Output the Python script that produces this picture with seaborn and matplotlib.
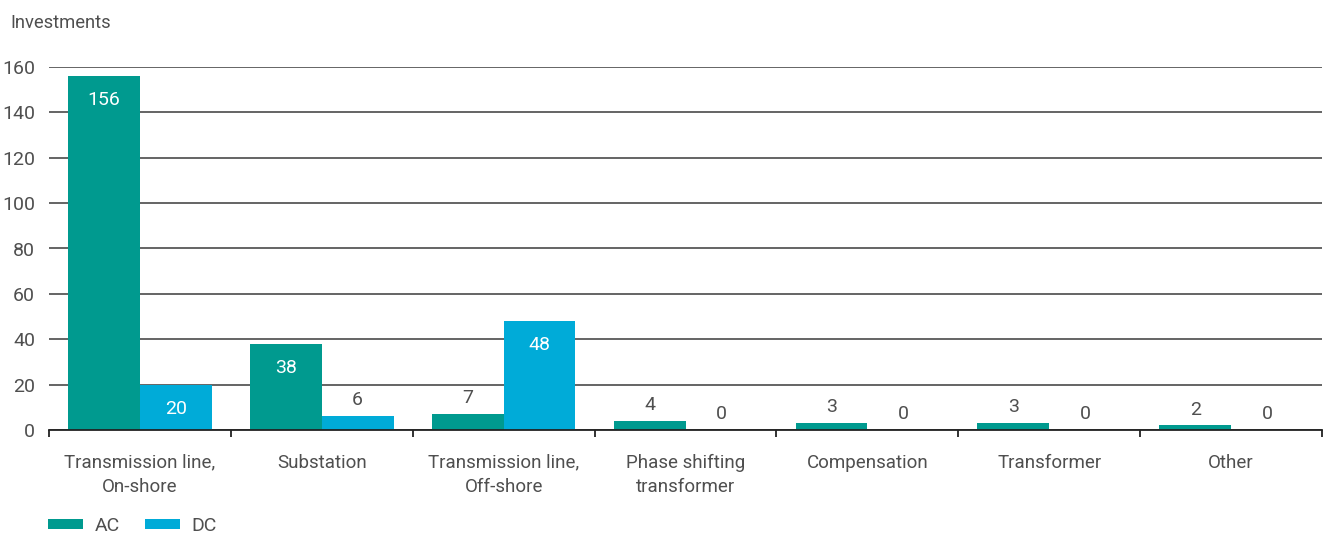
import matplotlib
matplotlib.use("Agg")
import matplotlib.pyplot as plt
import seaborn as sns
import pandas as pd
from matplotlib.patches import Patch

categories = [
    "Transmission line,\nOn-shore",
    "Substation",
    "Transmission line,\nOff-shore",
    "Phase shifting\ntransformer",
    "Compensation",
    "Transformer",
    "Other",
]
ac_values = [156, 38, 7, 4, 3, 3, 2]
dc_values = [20, 6, 48, 0, 0, 0, 0]
series = ["AC", "DC"]
y_ticks = [0, 20, 40, 60, 80, 100, 120, 140, 160]

colors = {"AC": "#009a8f", "DC": "#00abd8"}
text_gray = "#4f4f4f"

df = pd.DataFrame({
    "category": categories * 2,
    "value": ac_values + dc_values,
    "type": ["AC"] * len(categories) + ["DC"] * len(categories),
})

sns.set_theme(style="white")
plt.rcParams["font.family"] = ["Roboto", "DejaVu Sans"]

fig = plt.figure(figsize=(13.29, 5.38), dpi=100)
ax = fig.add_axes([49 / 1329, 1 - 430 / 538, (1322 - 49) / 1329, (430 - 67) / 538])

sns.barplot(
    data=df, x="category", y="value", hue="type", order=categories,
    hue_order=series, palette=colors, width=0.79, saturation=1,
    linewidth=0, edgecolor="none", legend=False, ax=ax, zorder=3,
)

ax.set_xlim(-0.5, len(categories) - 0.5)
ax.set_ylim(0, 160)
ax.set_yticks(y_ticks)
ax.set_yticklabels([str(v) for v in y_ticks])
ax.yaxis.grid(True, color="#3a3a3a", linewidth=1.1, zorder=0)
ax.set_axisbelow(True)
ax.set_xlabel("")
ax.set_ylabel("")

for side in ["top", "right", "left"]:
    ax.spines[side].set_visible(False)
ax.spines["bottom"].set_color("#222222")
ax.spines["bottom"].set_linewidth(1.3)
ax.spines["bottom"].set_zorder(5)

ax.tick_params(axis="y", length=0, pad=10, labelsize=14, labelcolor=text_gray)
ax.tick_params(axis="x", which="major", length=0, pad=17, labelsize=13.5,
               labelcolor=text_gray)
ax.set_xticks([i - 0.5 for i in range(len(categories) + 1)], minor=True)
ax.tick_params(axis="x", which="minor", length=5, width=1.3, color="#222222",
               direction="out", bottom=True)
for lbl in ax.get_xticklabels():
    lbl.set_linespacing(1.45)

# value labels: inside the bar for tall bars, above it for short ones
for container, name in zip(ax.containers, series):
    for bar, val in zip(container, ac_values if name == "AC" else dc_values):
        x = bar.get_x() + bar.get_width() / 2
        h = bar.get_height()
        if val >= 15:
            ax.annotate(str(val), (x, h), xytext=(0, -11), textcoords="offset points",
                        ha="center", va="top", color="white", fontsize=14, zorder=6)
        else:
            ax.annotate(str(val), (x, h), xytext=(0, 5), textcoords="offset points",
                        ha="center", va="bottom", color=text_gray, fontsize=14, zorder=6)

fig.text(10 / 1329, 1 - 23 / 538, "Investments", ha="left", va="center",
         fontsize=13.2, color=text_gray)

handles = [Patch(facecolor=colors[s], edgecolor="none", label=s) for s in series]
fig.legend(handles=handles, loc="lower left", bbox_to_anchor=(48 / 1329, 3 / 538),
           ncol=2, frameon=False, fontsize=14, handlelength=1.8, handleheight=0.42,
           handletextpad=0.6, columnspacing=1.3, borderpad=0, borderaxespad=0,
           labelcolor=text_gray)

fig.savefig("out.png", dpi=100)
